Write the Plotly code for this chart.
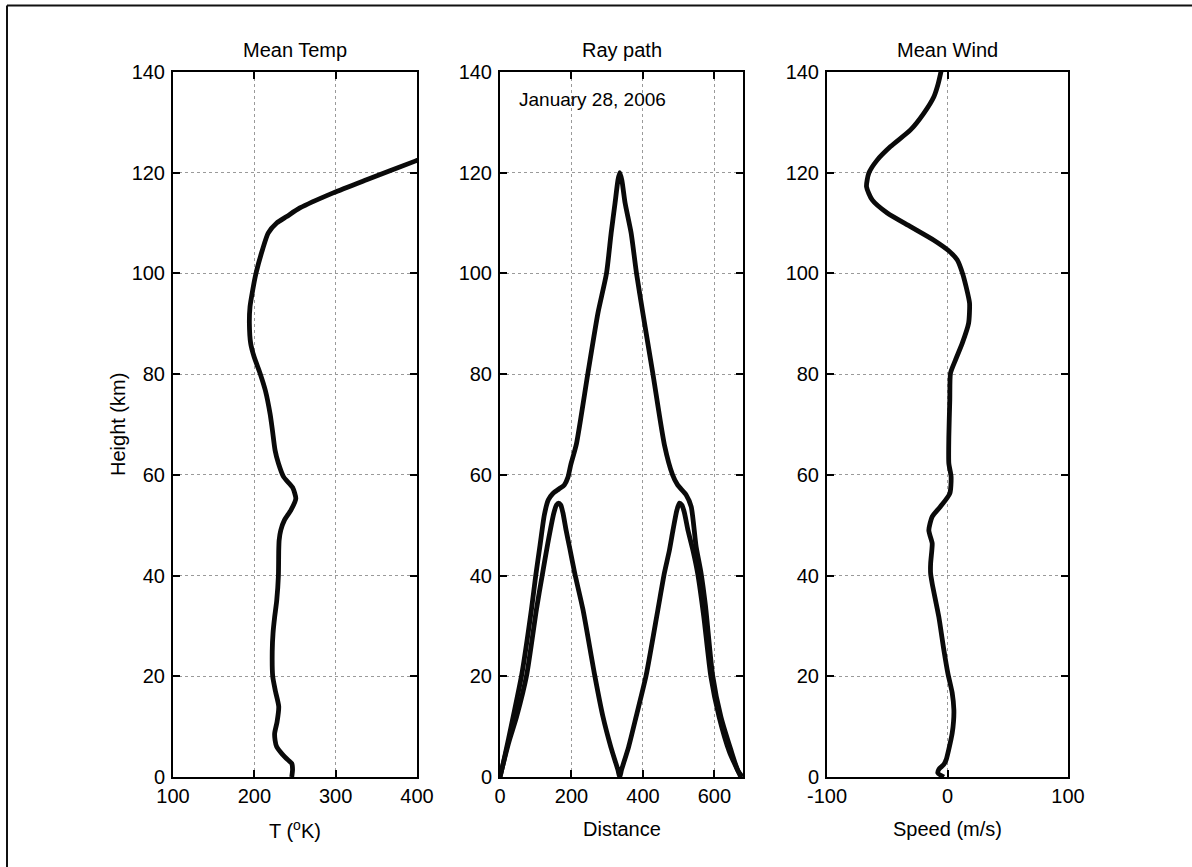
import plotly.graph_objects as go

# ---- Mean temperature profile: height (km) vs temperature (K) ----
temp_height = [0, 1.5, 2.7, 3.3, 4.6, 6.0, 7.3, 8.7, 11, 14, 17, 20, 25, 28.6, 31.8, 35,
               40, 45, 47, 49, 51, 53, 55.3, 57.5, 59.6, 62.3, 64.9, 68.9, 72, 76.8,
               80.2, 83.5, 86.1, 90.1, 93.4, 96.7, 100, 104.7, 108, 110, 111.3, 113,
               116, 118.6, 122.3, 124]
temp_k = [246, 247, 246, 242, 234, 227.5, 225.5, 225, 228, 230, 226, 222.6, 222, 223,
          225, 227.5, 229.6, 230, 230.5, 232.5, 237, 245, 251, 247, 236, 229.6, 225.5,
          222.2, 219.5, 213.5, 207, 199.6, 195.5, 193.9, 194.7, 198, 202, 210, 217,
          227.5, 239.8, 256, 297, 338, 397.7, 425]

# ---- Ray paths: distance vs height (km) ----
ray1_dist = [0, 10, 37, 60.5, 88, 100, 112, 124, 135, 148, 165, 180, 190, 198, 214, 246,
             274, 298, 311, 322, 330, 335, 341, 350, 367, 382, 400, 428, 460, 483, 497,
             521, 535, 548.7, 562.6, 575, 595, 618, 646, 665, 678]
ray1_height = [0, 3, 12, 20.2, 33.3, 40, 46, 52, 55, 56.3, 57.2, 58, 59.5, 62, 66.2,
               80.2, 92.1, 100, 108, 114, 118.5, 120, 118.5, 114, 108, 100, 92, 80, 66,
               60, 58, 56, 53.7, 45.8, 40.5, 34, 20.2, 12, 5.4, 1.4, 0]

ray2_dist = [0, 4.7, 25, 46.5, 74.5, 102, 118, 134, 150.6, 158, 164, 170, 176, 185,
             195, 209, 232, 265, 288, 310, 330, 335, 340, 360, 381, 409, 442, 460, 474,
             484, 495, 502, 509, 516, 526, 540, 553, 570, 590, 613, 642, 674]
ray2_height = [0, 1.4, 7, 12, 20.2, 33.3, 40, 46.5, 52.4, 54, 54.4, 54, 52.5, 49,
               45.5, 40.5, 33.3, 20.2, 12, 6, 1.4, 0, 1.4, 6, 12, 20.2, 33.3, 40.5, 45,
               49, 53, 54.4, 54, 52.5, 49, 45, 40.5, 32, 20, 12, 5, 0]

# ---- Mean wind profile: height (km) vs speed (m/s) ----
wind_height = [0, 0.8, 1.6, 2.5, 3.5, 5.4, 8.7, 11, 13.3, 16.7, 20.6, 25.2, 31.8, 38.4,
               40.4, 42.4, 45, 46.4, 49, 51.7, 53.7, 56.3, 59.6, 62.3, 67.5, 74.9, 80.2,
               82.8, 86.1, 90.1, 94.1, 97.3, 100, 102.7, 104.5, 106.6, 109.3, 112,
               114.6, 117.2, 119.9, 122.5, 125.2, 128.5, 131.8, 135.1, 137.7, 140.5]
wind_speed = [-3, -8, -7, -3, -1, 1, 3.9, 5, 5.3, 3.9, 0.3, -3, -7.2, -12.7, -14, -14,
              -13, -12.7, -15.5, -12.7, -5.8, 1.9, 3, 1.1, 1.1, 1.9, 2.5, 6.6, 12.2,
              17.5, 18.3, 15.5, 12.5, 8, 1, -11.3, -30.7, -50, -62.5, -67.2, -65.3,
              -58.4, -47.3, -30.7, -19.7, -11.3, -7.7, -5]

# ---- Axis ticks ----
height_ticks = [0, 20, 40, 60, 80, 100, 120, 140]
temp_ticks = [100, 200, 300, 400]
dist_ticks = [0, 200, 400, 600]
speed_ticks = [-100, 0, 100]
speed_labels = ["-100", "0", "100"]

W, H = 1192, 867
FONT = "Liberation Sans, Arial, Helvetica, sans-serif"
INK = "#000000"


def px_x(v):
    return v / W


def px_y(v):
    return 1 - v / H


line_style = dict(color="#0a0a0a", width=4.8, shape="spline", smoothing=0.6)

fig = go.Figure()
fig.add_trace(go.Scatter(x=temp_k, y=temp_height, mode="lines", line=line_style,
                         xaxis="x", yaxis="y", showlegend=False))
fig.add_trace(go.Scatter(x=ray1_dist, y=ray1_height, mode="lines", line=line_style,
                         xaxis="x2", yaxis="y2", showlegend=False))
fig.add_trace(go.Scatter(x=ray2_dist, y=ray2_height, mode="lines", line=line_style,
                         xaxis="x2", yaxis="y2", showlegend=False))
fig.add_trace(go.Scatter(x=wind_speed, y=wind_height, mode="lines", line=line_style,
                         xaxis="x3", yaxis="y3", showlegend=False))

axis_common = dict(
    showline=True, linecolor="black", linewidth=2, mirror="ticks",
    ticks="inside", ticklen=7, tickwidth=1.5, tickcolor="black",
    showgrid=True, gridcolor="#9a9a9a", griddash="dot", gridwidth=1,
    zeroline=False, automargin=False,
    tickfont=dict(family=FONT, size=20, color=INK),
)

panels = [(173, 417), (500, 743), (827, 1068)]
y_dom = [px_y(777), px_y(72)]

layout = dict(
    width=W, height=H,
    margin=dict(l=0, r=0, t=0, b=0),
    paper_bgcolor="white", plot_bgcolor="white",
    font=dict(family=FONT, size=20, color=INK),
    xaxis=dict(axis_common, domain=[px_x(panels[0][0]), px_x(panels[0][1])],
               range=[100, 400], tickmode="array", tickvals=temp_ticks, anchor="y"),
    xaxis2=dict(axis_common, domain=[px_x(panels[1][0]), px_x(panels[1][1])],
                range=[0, 680], tickmode="array", tickvals=dist_ticks, anchor="y2"),
    xaxis3=dict(axis_common, domain=[px_x(panels[2][0]), px_x(panels[2][1])],
                range=[-100, 100], tickmode="array", tickvals=speed_ticks,
                ticktext=speed_labels, anchor="y3"),
)
for i, key in enumerate(["yaxis", "yaxis2", "yaxis3"]):
    layout[key] = dict(axis_common, domain=y_dom, range=[0, 140], tickmode="array",
                       tickvals=height_ticks, anchor=["x", "x2", "x3"][i],
                       ticklabelstandoff=2)
fig.update_layout(**layout)

# Panel titles and axis labels
titles = ["Mean Temp", "Ray path", "Mean Wind"]
xlabels = ["T (<sup>o</sup>K)", "Distance", "Speed (m/s)"]
for (x0, x1), t, xl in zip(panels, titles, xlabels):
    cx = px_x((x0 + x1) / 2)
    fig.add_annotation(x=cx, y=px_y(50), xref="paper", yref="paper", text=t,
                       xanchor="center", yanchor="middle", showarrow=False,
                       font=dict(family=FONT, size=20, color=INK))
    fig.add_annotation(x=cx, y=px_y(829), xref="paper", yref="paper", text=xl,
                       xanchor="center", yanchor="middle", showarrow=False,
                       font=dict(family=FONT, size=20, color=INK))

fig.add_annotation(x=px_x(118), y=px_y(425), xref="paper", yref="paper",
                   text="Height (km)", textangle=-90, xanchor="center",
                   yanchor="middle", showarrow=False,
                   font=dict(family=FONT, size=20, color=INK))

fig.add_annotation(x=47, y=134.5, xref="x2", yref="y2", text="January 28, 2006",
                   xanchor="left", yanchor="middle", showarrow=False,
                   font=dict(family=FONT, size=19, color=INK))

# Frame lines of the page
fig.add_shape(type="line", xref="paper", yref="paper", x0=px_x(7), x1=1.0,
              y0=px_y(5.5), y1=px_y(5.5), line=dict(color="#111", width=2))
fig.add_shape(type="line", xref="paper", yref="paper", x0=px_x(7), x1=px_x(7),
              y0=px_y(5.5), y1=0.0, line=dict(color="#111", width=2))

fig.write_html("out.html")
